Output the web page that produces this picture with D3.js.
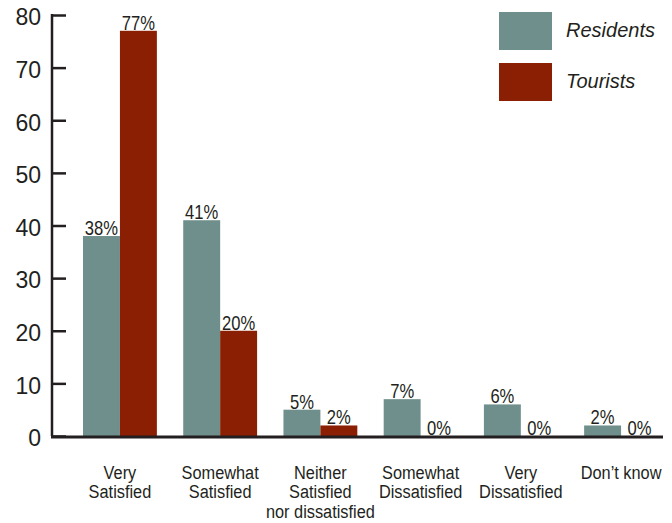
<!DOCTYPE html>
<html><head><meta charset="utf-8">
<script src="https://cdn.jsdelivr.net/npm/d3@7"></script>
<style>
body{margin:0;background:#fff;}
svg{display:block;}
text{font-family:"Liberation Sans",Arial,Helvetica,sans-serif;}
</style></head>
<body><svg id="c" width="672" height="523"></svg>
<script>
const categories = [["Very","Satisfied"],["Somewhat","Satisfied"],["Neither","Satisfied","nor dissatisfied"],["Somewhat","Dissatisfied"],["Very","Dissatisfied"],["Don\u2019t know"]];
const seriesNames = ["Residents","Tourists"];
const residents = [38,41,5,7,6,2];
const tourists = [77,20,2,0,0,0];
const yTicks = [0,10,20,30,40,50,60,70,80];
const colors = ["#6f8f8c","#8b1f03"];
const narrow = 0.86;

const svg = d3.select("#c");
const x0 = d3.scaleBand().domain(d3.range(categories.length)).range([83,658]).paddingInner(0.263).paddingOuter(0);
const x1 = d3.scaleBand().domain([0,1]).range([0,x0.bandwidth()]);
const y = d3.scaleLinear().domain([0,80]).range([436,15]);

// y axis
const ax = svg.append("g").attr("transform","translate(52,0)")
  .call(d3.axisRight(y).tickValues(yTicks).tickSize(14).tickFormat(""));
ax.select(".domain").remove();
ax.selectAll("line").attr("stroke","#231f20").attr("stroke-width",2.5);
svg.append("line").attr("x1",52).attr("x2",52).attr("y1",y(80)-1).attr("y2",y(0)).attr("stroke","#231f20").attr("stroke-width",2.5);
svg.append("g").selectAll("text").data(yTicks).join("text")
  .attr("x",41).attr("y",d=>y(d)+2).attr("dy","0.36em").attr("text-anchor","end")
  .attr("font-size",23).attr("fill","#231f20")
  .text(d=>d);

const data = categories.map((c,i)=>({i, vals:[residents[i],tourists[i]]}));
const g = svg.append("g").selectAll("g").data(data).join("g").attr("transform",d=>`translate(${x0(d.i)},0)`);
g.selectAll("rect").data(d=>d.vals.map((v,k)=>({v,k}))).join("rect")
  .attr("x",d=>x1(d.k)).attr("width",x1.bandwidth())
  .attr("y",d=>y(d.v)).attr("height",d=>y(0)-y(d.v)).attr("fill",d=>colors[d.k]);
g.selectAll("text.v").data(d=>d.vals.map((v,k)=>({v,k}))).join("text").attr("class","v")
  .attr("transform",d=>`translate(${x1(d.k)+x1.bandwidth()/2},${y(d.v)-1}) scale(0.83,1)`)
  .attr("text-anchor","middle")
  .attr("font-size",20).attr("fill","#231f20").text(d=>d.v+"%");

// baseline
svg.append("line").attr("x1",51).attr("x2",663).attr("y1",y(0)+1).attr("y2",y(0)+1).attr("stroke","#231f20").attr("stroke-width",3);

// category labels
const cl = svg.append("g").selectAll("text").data(categories).join("text")
  .attr("text-anchor","middle").attr("font-size",19).attr("fill","#231f20")
  .attr("transform",(d,i)=>`translate(${x0(i)+x0.bandwidth()/2},479) scale(${narrow},1)`);
cl.selectAll("tspan").data(d=>d).join("tspan").attr("x",0).attr("y",(d,j)=>j*19.5).text(d=>d);

// legend
const lg = svg.append("g").selectAll("g").data(seriesNames).join("g")
  .attr("transform",(d,i)=>`translate(499,${12+i*51})`);
lg.append("rect").attr("width",53).attr("height",38).attr("fill",(d,i)=>colors[i]);
lg.append("text").attr("x",67).attr("y",25)
  .attr("font-style","italic").attr("font-size",20).attr("fill","#231f20").text(d=>d);
</script></body></html>
